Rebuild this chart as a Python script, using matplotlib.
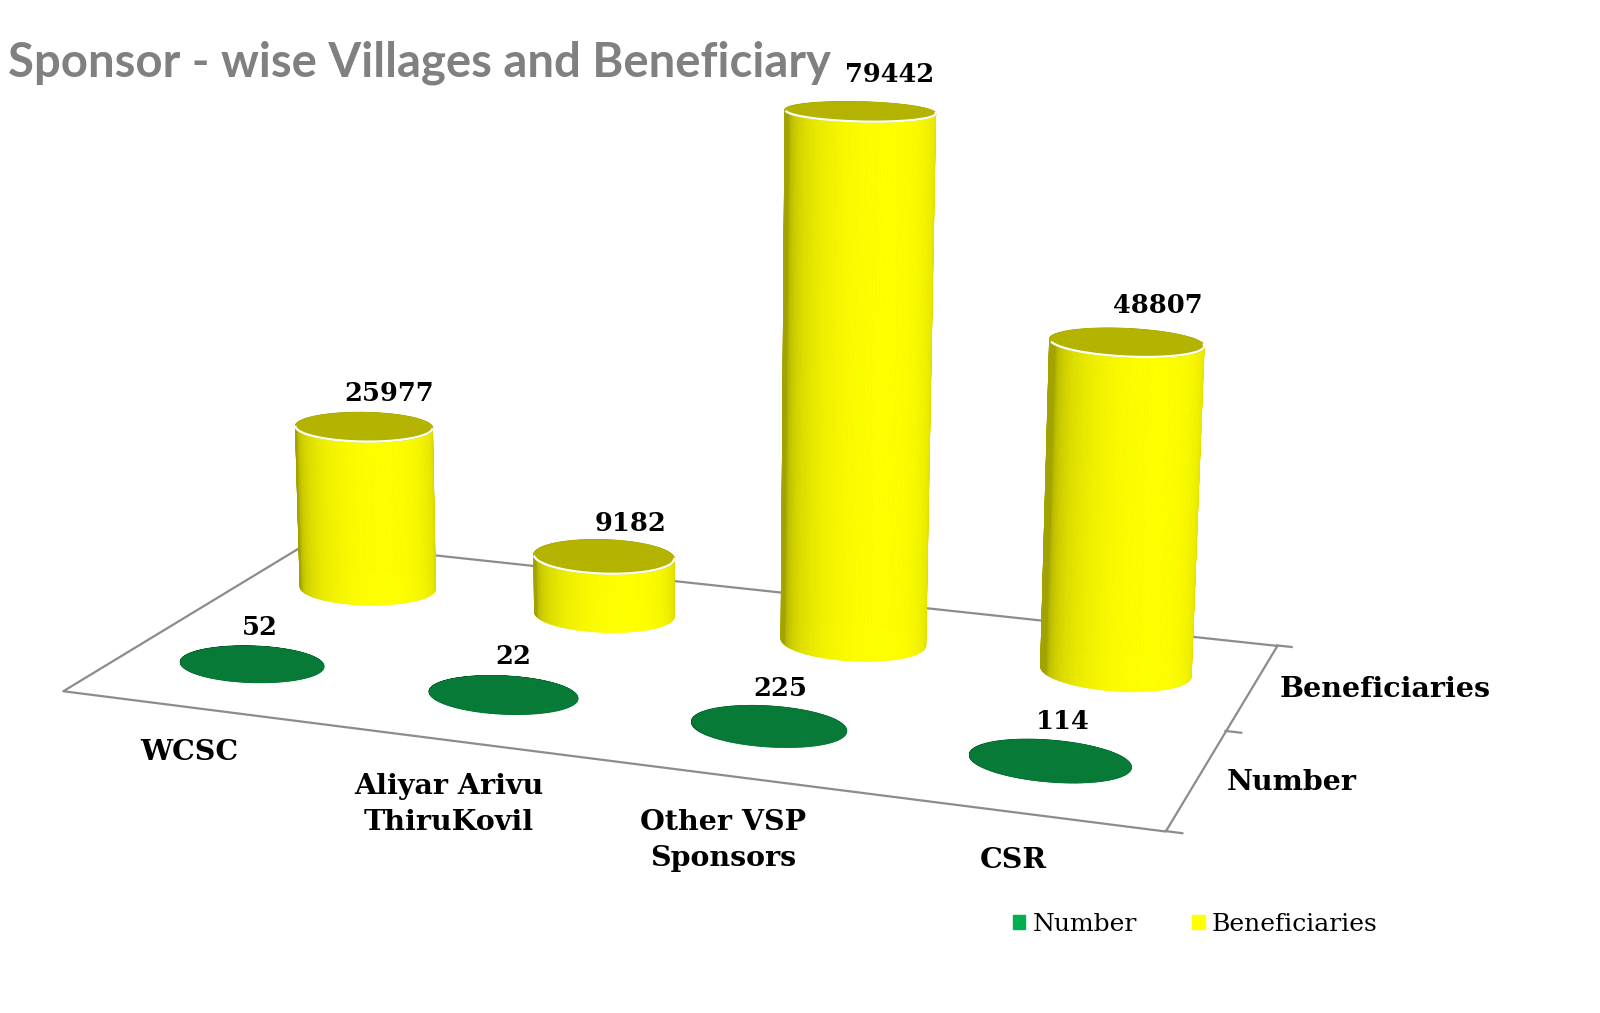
import numpy as np
import matplotlib
matplotlib.use("Agg")
import matplotlib.pyplot as plt
from matplotlib.colors import to_rgb
from matplotlib.patches import Patch
from mpl_toolkits.mplot3d.art3d import Poly3DCollection

# data
sponsors = ["WCSC", "Aliyar Arivu\nThiruKovil", "Other VSP\nSponsors", "CSR"]
series_names = ["Number", "Beneficiaries"]
number = [52, 22, 225, 114]
beneficiaries = [25977, 9182, 79442, 48807]

GREEN = "#077a37"
LEGEND_GREEN = "#00b050"
YELLOW = "#ffff00"
TOP_YELLOW = "#b3b300"
EDGE = "#8c8c8c"
LABEL_FONT = "DejaVu Serif"

# camera fitted to the reference layout
ELEV, AZIM, FOCAL = 14.13, -70.09, 0.3865
BOX = np.array([1.2899, 0.6439, 0.6514])
XLO, XHI = -0.5, 3.5
YLO, YHI = -0.5, 1.5
ZMAX = 80000

W, H = 1600, 1013
fig = plt.figure(figsize=(W / 100, H / 100), dpi=100)
side = W / H  # 3d axes draw in a square, make it as wide as the figure
ax = fig.add_axes([-0.0871, -0.2059, 1.0, side], projection="3d", computed_zorder=False)
ax.set_proj_type("persp", focal_length=FOCAL)
ax.view_init(elev=ELEV, azim=AZIM)
ax.set_xlim(XLO, XHI)
ax.set_ylim(YLO, YHI)
ax.set_zlim(0, ZMAX)
ax.set_box_aspect(BOX, zoom=np.linalg.norm(BOX) / (1.8294640721620434 * 25 / 24))
ax.set_axis_off()

# a round cylinder in data units, flattened in depth like the excel one
r = 0.275
ry_round = r * (YHI - YLO) / BOX[1] * BOX[0] / (XHI - XLO)

# floor
floor = Poly3DCollection([[(XLO, YLO, 0), (XHI, YLO, 0), (XHI, YHI, 0), (XLO, YHI, 0)]],
                         facecolor="white", edgecolor=EDGE, linewidth=1.6, zorder=1)
ax.add_collection3d(floor)
for yt in (YLO, (YLO + YHI) / 2, YHI):
    ax.plot([XHI, XHI + 0.055], [yt, yt], [0, 0], color=EDGE, lw=1.6, zorder=1)


def cylinder(xc, yc, h, flat, side_color, top_color, zo, rim=True):
    ry = ry_round * flat
    th = np.linspace(0, 2 * np.pi, 145)
    view = np.radians(AZIM)
    light = np.radians(AZIM + 15)
    base = np.array(to_rgb(side_color))
    quads, cols = [], []
    for a, b in zip(th[:-1], th[1:]):
        x1, y1 = xc + r * np.cos(a), yc + ry * np.sin(a)
        x2, y2 = xc + r * np.cos(b), yc + ry * np.sin(b)
        quads.append([(x1, y1, 0), (x2, y2, 0), (x2, y2, h), (x1, y1, h)])
        d = np.clip(np.cos((a + b) / 2 - light), 0, 1)
        k = 0.64 + 0.36 * d ** 0.5
        cols.append(np.clip(base * k, 0, 1))
    ax.add_collection3d(Poly3DCollection(quads, facecolors=cols, edgecolors=cols,
                                         linewidth=0.6, zorder=zo))
    top = [(xc + r * np.cos(t), yc + ry * np.sin(t), h) for t in th]
    ax.add_collection3d(Poly3DCollection([top], facecolor=top_color, edgecolor=top_color,
                                         linewidth=0.8, zorder=zo + 0.1))
    if rim:
        tf = th[np.cos(th - view) > 0.05]
        tf = np.concatenate([tf[tf > np.pi], tf[tf <= np.pi]])
        ax.plot(xc + r * np.cos(tf), yc + ry * np.sin(tf), np.full(len(tf), h),
                color="white", lw=1.6, zorder=zo + 0.2)


# back row: beneficiaries
for i, v in enumerate(beneficiaries):
    cylinder(i, 1, v, 0.8, YELLOW, TOP_YELLOW, 2 + i * 0.01)
    ax.text(i + 0.11, 1, v + 4500, str(v), ha="center", va="baseline", fontsize=18.5,
            fontweight="bold", family=LABEL_FONT, zorder=6)

# front row: number (flat discs at this scale)
for i, v in enumerate(number):
    cylinder(i, 0, v, 0.72, GREEN, GREEN, 4 + i * 0.01, rim=False)
    ax.text(i + 0.04, 0, 5800, str(v), ha="center", va="center", fontsize=18.5,
            fontweight="bold", family=LABEL_FONT, zorder=6)

# category labels in front of the floor
for i, name in enumerate(sponsors):
    ax.text(i * 0.97 + 0.17, YLO - 0.3, 0, name, ha="center", va="top", fontsize=20.5,
            fontweight="bold", family=LABEL_FONT, linespacing=1.42, zorder=6)

# series labels on the right side
for j, name in enumerate(series_names):
    ax.text(XHI + 0.1, j, 0, name, ha="left", va="center", fontsize=20.5,
            fontweight="bold", family=LABEL_FONT, zorder=6)

fig.text(0.005, 1 - 63 / H, "Sponsor - wise Villages and Beneficiary", ha="left",
         va="center", fontsize=34, fontweight="bold", color="#808080",
         family=["Lato", "DejaVu Sans"])

handles = [Patch(color=LEGEND_GREEN), Patch(color=YELLOW)]
fig.legend(handles, series_names, loc="center", bbox_to_anchor=(0.747, 1 - 924 / H), ncol=2,
           frameon=False, handlelength=0.5, handleheight=0.5, handletextpad=0.3,
           columnspacing=2.2, prop={"family": LABEL_FONT, "size": 18})

fig.savefig("out.png", dpi=100)
